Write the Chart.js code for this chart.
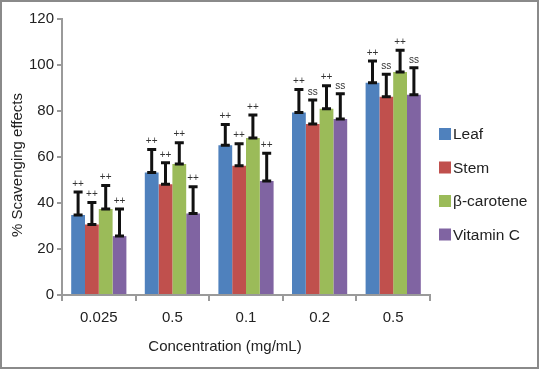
<!DOCTYPE html>
<html lang="en">
<head>
    <meta charset="UTF-8">
    <title>Scavenging effects</title>
    <script src="https://cdn.jsdelivr.net/npm/chart.js"></script>
    <style>
        html, body { margin: 0; padding: 0; background: #fff; }
        #wrap { width: 539px; height: 369px; }
    </style>
</head>
<body>
    <div id="wrap"><canvas id="chart" width="539" height="369"></canvas></div>

    <script>
        // Data
        const concentrations = ['0.025', '0.5', '0.1', '0.2', '0.5'];
        const seriesNames = ['Leaf', 'Stem', 'β-carotene', 'Vitamin C'];
        const seriesColors = ['#4F81BD', '#C0504D', '#9BBB59', '#8064A2'];

        const leaf = [34.8, 53.3, 65.1, 79.3, 92.3];
        const stem = [30.7, 48.1, 56.2, 74.3, 86.2];
        const carotene = [37.4, 57.0, 68.3, 81.0, 97.0];
        const vitaminC = [25.6, 35.4, 49.6, 76.5, 87.1];

        const leafErr = [10.0, 10.0, 9.0, 10.0, 9.4];
        const stemErr = [9.5, 9.4, 9.6, 10.5, 9.8];
        const caroteneErr = [10.2, 9.2, 10.0, 10.0, 9.4];
        const vitaminCErr = [11.8, 11.7, 12.0, 11.0, 11.7];

        const leafMarks = ['++', '++', '++', '++', '++'];
        const stemMarks = ['++', '++', '++', 'ss', 'ss'];
        const caroteneMarks = ['++', '++', '++', '++', '++'];
        const vitaminCMarks = ['++', '++', '++', 'ss', 'ss'];

        const yTicks = [0, 20, 40, 60, 80, 100, 120];

        const values = [leaf, stem, carotene, vitaminC];
        const errors = [leafErr, stemErr, caroteneErr, vitaminCErr];
        const marks = [leafMarks, stemMarks, caroteneMarks, vitaminCMarks];

        const FONT = '"Liberation Sans", Arial, sans-serif';

        // error bars (upper only) plus significance marks
        const errorBars = {
            id: 'errorBars',
            afterDatasetsDraw(chart) {
                const ctx = chart.ctx;
                const y = chart.scales.y;
                ctx.save();
                chart.data.datasets.forEach((ds, i) => {
                    const meta = chart.getDatasetMeta(i);
                    meta.data.forEach((bar, j) => {
                        const top = y.getPixelForValue(ds.data[j] + errors[i][j]);
                        const base = bar.y;
                        ctx.strokeStyle = '#111';
                        ctx.lineWidth = 3;
                        ctx.beginPath();
                        ctx.moveTo(bar.x, base);
                        ctx.lineTo(bar.x, top);
                        ctx.moveTo(bar.x - 4.5, top);
                        ctx.lineTo(bar.x + 4.5, top);
                        ctx.moveTo(bar.x - 4.5, base);
                        ctx.lineTo(bar.x + 4.5, base);
                        ctx.stroke();
                        ctx.fillStyle = '#333';
                        ctx.font = '10px ' + FONT;
                        ctx.textAlign = 'center';
                        ctx.textBaseline = 'bottom';
                        ctx.fillText(marks[i][j], bar.x, top - 3);
                    });
                });
                ctx.restore();
            }
        };

        // legend, axis titles and frame
        const decorations = {
            id: 'decorations',
            afterDraw(chart) {
                const ctx = chart.ctx;
                ctx.save();
                chart.data.datasets.forEach((ds, i) => {
                    const cy = 134 + i * 33.5;
                    ctx.fillStyle = ds.backgroundColor;
                    ctx.fillRect(439, cy - 6, 12, 12);
                    ctx.fillStyle = '#222';
                    ctx.font = '15.5px ' + FONT;
                    ctx.textAlign = 'left';
                    ctx.textBaseline = 'middle';
                    ctx.fillText(ds.label, 453, cy + 1);
                });

                ctx.fillStyle = '#222';
                ctx.font = '15px ' + FONT;
                ctx.textAlign = 'center';
                ctx.textBaseline = 'middle';
                ctx.fillText('Concentration (mg/mL)', 225, 347);

                ctx.translate(18, 165);
                ctx.rotate(-Math.PI / 2);
                ctx.fillText('% Scavenging effects', 0, 0);
                ctx.restore();

                ctx.save();
                ctx.strokeStyle = '#8a8a8a';
                ctx.lineWidth = 2;
                ctx.strokeRect(1, 1, chart.width - 2, chart.height - 2);
                ctx.restore();
            }
        };

        new Chart(document.getElementById('chart'), {
            type: 'bar',
            data: {
                labels: concentrations,
                datasets: seriesNames.map((name, i) => ({
                    label: name,
                    data: values[i],
                    backgroundColor: seriesColors[i],
                    categoryPercentage: 0.75,
                    barPercentage: 1.0
                }))
            },
            options: {
                responsive: false,
                animation: false,
                layout: { padding: { top: 19, right: 109, bottom: 0, left: 0 } },
                plugins: {
                    legend: { display: false },
                    tooltip: { enabled: false }
                },
                scales: {
                    x: {
                        afterFit: s => { s.height = 74; },
                        grid: { drawOnChartArea: false, drawTicks: true, tickLength: 6, color: '#9a9a9a', lineWidth: 2 },
                        border: { color: '#9a9a9a', width: 2 },
                        ticks: { color: '#222', font: { family: FONT, size: 15 }, padding: 8 }
                    },
                    y: {
                        min: 0,
                        max: 120,
                        afterFit: s => { s.width = 62; },
                        afterBuildTicks: s => { s.ticks = yTicks.map(v => ({ value: v })); },
                        grid: { drawOnChartArea: false, drawTicks: true, tickLength: 5, color: '#9a9a9a', lineWidth: 2 },
                        border: { color: '#9a9a9a', width: 2 },
                        ticks: { color: '#222', font: { family: FONT, size: 15 }, padding: 3 }
                    }
                }
            },
            plugins: [errorBars, decorations]
        });
    </script>
</body>
</html>
